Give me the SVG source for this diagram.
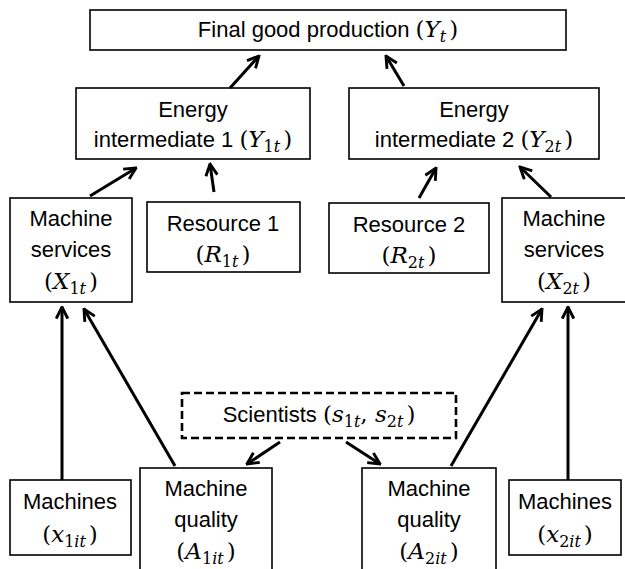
<svg xmlns="http://www.w3.org/2000/svg" width="625" height="569" viewBox="0 0 625 569">
<defs>
<style>
.box{fill:#fff;stroke:#000;stroke-width:1.6}
.dash{fill:#fff;stroke:#000;stroke-width:2.6;stroke-dasharray:8,4}
.t{font-family:"Liberation Sans",Arial,sans-serif;font-size:22px;text-anchor:middle;fill:#000}
.m{font-family:"DejaVu Serif","Liberation Serif",serif;font-style:italic;font-size:23px}
.p{font-family:"DejaVu Serif","Liberation Serif",serif;font-style:normal;font-size:23px}
.s{font-size:16px}
.c line{stroke:#000;stroke-width:3;marker-end:url(#ah)}
</style>
<marker id="ah" viewBox="0 0 10 10" refX="9" refY="5" markerWidth="4.8" markerHeight="4.8" orient="auto" markerUnits="strokeWidth">
<path d="M1,1 L9,5 L1,9" fill="none" stroke="#000" stroke-width="2"/>
</marker>
</defs>
<rect width="625" height="569" fill="#fff"/>

<g id="final">
<rect class="box" x="90" y="10" width="476" height="40"/>
<text class="t" x="328" y="37">Final good production <tspan class="p">(</tspan><tspan class="m">Y</tspan><tspan class="m s" dy="5">t</tspan><tspan class="p" dy="-5" dx="3">)</tspan></text>
</g>

<g id="energy1">
<rect class="box" x="76" y="88" width="234" height="71"/>
<text class="t" x="193" y="117">Energy</text>
<text class="t" x="193" y="147">intermediate 1 <tspan class="p">(</tspan><tspan class="m">Y</tspan><tspan class="p s" dy="5">1</tspan><tspan class="m s">t</tspan><tspan class="p" dy="-5" dx="3">)</tspan></text>
</g>

<g id="energy2">
<rect class="box" x="349" y="88" width="250" height="71"/>
<text class="t" x="474" y="117">Energy</text>
<text class="t" x="474" y="147">intermediate 2 <tspan class="p">(</tspan><tspan class="m">Y</tspan><tspan class="p s" dy="5">2</tspan><tspan class="m s">t</tspan><tspan class="p" dy="-5" dx="3">)</tspan></text>
</g>

<g id="services1">
<rect class="box" x="10" y="198" width="122" height="104"/>
<text class="t" x="71" y="226">Machine</text>
<text class="t" x="71" y="257">services</text>
<text class="t" x="71" y="289"><tspan class="p">(</tspan><tspan class="m">X</tspan><tspan class="p s" dy="5">1</tspan><tspan class="m s">t</tspan><tspan class="p" dy="-5" dx="3">)</tspan></text>
</g>

<g id="resource1">
<rect class="box" x="147" y="202" width="153" height="70"/>
<text class="t" x="223" y="231">Resource 1</text>
<text class="t" x="223" y="262"><tspan class="p">(</tspan><tspan class="m">R</tspan><tspan class="p s" dy="5">1</tspan><tspan class="m s">t</tspan><tspan class="p" dy="-5" dx="3">)</tspan></text>
</g>

<g id="resource2">
<rect class="box" x="329" y="203" width="160" height="70"/>
<text class="t" x="409" y="232">Resource 2</text>
<text class="t" x="409" y="263"><tspan class="p">(</tspan><tspan class="m">R</tspan><tspan class="p s" dy="5">2</tspan><tspan class="m s">t</tspan><tspan class="p" dy="-5" dx="3">)</tspan></text>
</g>

<g id="services2">
<rect class="box" x="502" y="198" width="130" height="104"/>
<text class="t" x="564" y="226">Machine</text>
<text class="t" x="564" y="257">services</text>
<text class="t" x="564" y="289"><tspan class="p">(</tspan><tspan class="m">X</tspan><tspan class="p s" dy="5">2</tspan><tspan class="m s">t</tspan><tspan class="p" dy="-5" dx="3">)</tspan></text>
</g>

<g id="scientists">
<rect class="dash" x="182" y="393" width="274" height="45"/>
<text class="t" x="319" y="422">Scientists <tspan class="p">(</tspan><tspan class="m">s</tspan><tspan class="p s" dy="5">1</tspan><tspan class="m s">t</tspan><tspan class="p" dy="-5">, </tspan><tspan class="m">s</tspan><tspan class="p s" dy="5">2</tspan><tspan class="m s">t</tspan><tspan class="p" dy="-5" dx="3">)</tspan></text>
</g>

<g id="machines1">
<rect class="box" x="10" y="480" width="121" height="75"/>
<text class="t" x="70" y="509">Machines</text>
<text class="t" x="70" y="542"><tspan class="p">(</tspan><tspan class="m">x</tspan><tspan class="p s" dy="5">1</tspan><tspan class="m s">it</tspan><tspan class="p" dy="-5" dx="3">)</tspan></text>
</g>

<g id="quality1">
<rect class="box" x="140" y="468" width="132" height="110"/>
<text class="t" x="206" y="496">Machine</text>
<text class="t" x="206" y="527">quality</text>
<text class="t" x="206" y="559"><tspan class="p">(</tspan><tspan class="m">A</tspan><tspan class="p s" dy="5">1</tspan><tspan class="m s">it</tspan><tspan class="p" dy="-5" dx="3">)</tspan></text>
</g>

<g id="quality2">
<rect class="box" x="362" y="468" width="134" height="110"/>
<text class="t" x="429" y="496">Machine</text>
<text class="t" x="429" y="527">quality</text>
<text class="t" x="429" y="559"><tspan class="p">(</tspan><tspan class="m">A</tspan><tspan class="p s" dy="5">2</tspan><tspan class="m s">it</tspan><tspan class="p" dy="-5" dx="3">)</tspan></text>
</g>

<g id="machines2">
<rect class="box" x="509" y="480" width="112" height="75"/>
<text class="t" x="565" y="509">Machines</text>
<text class="t" x="565" y="542"><tspan class="p">(</tspan><tspan class="m">x</tspan><tspan class="p s" dy="5">2</tspan><tspan class="m s">it</tspan><tspan class="p" dy="-5" dx="3">)</tspan></text>
</g>

<g id="connectors" class="c">
<line x1="230" y1="88" x2="259" y2="56"/>
<line x1="404" y1="86" x2="386" y2="56"/>
<line x1="90" y1="196" x2="136" y2="168"/>
<line x1="214" y1="192" x2="210" y2="164"/>
<line x1="419" y1="198" x2="436" y2="168"/>
<line x1="551" y1="197" x2="520" y2="167"/>
<line x1="62" y1="480" x2="62" y2="307"/>
<line x1="175" y1="466" x2="84" y2="309"/>
<line x1="451" y1="466" x2="542" y2="309"/>
<line x1="568" y1="480" x2="568" y2="307"/>
<line x1="280" y1="442" x2="247" y2="464"/>
<line x1="346" y1="442" x2="380" y2="464"/>
</g>
</svg>
